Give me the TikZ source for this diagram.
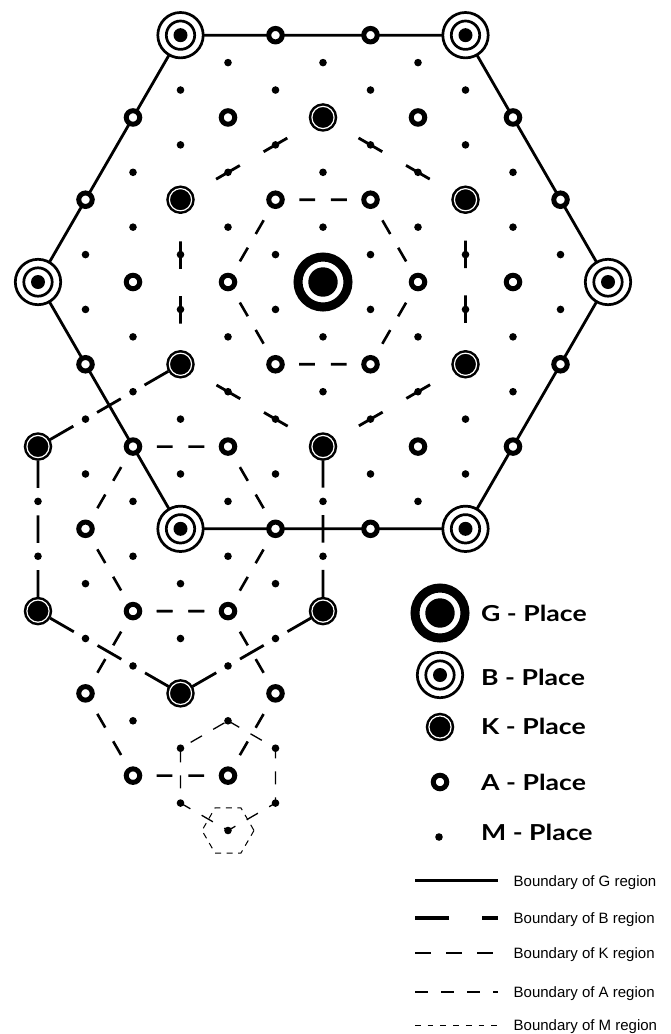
\documentclass[tikz,border=0pt]{standalone}
\usepackage{fontspec}
\setmainfont{Liberation Sans}
\newfontfamily\legfont[FakeStretch=1.21]{Lato}
\usetikzlibrary{backgrounds}
\newcommand\binnerparts[1]{\draw[black, line width=2.7pt] (#1.center) circle[radius=14.2pt]; \fill[black] (#1.center) circle[radius=7pt];}
\newcommand\ginnerparts[1]{\fill[black] (#1.center) circle[radius=14.7pt];}
\begin{document}
\begin{tikzpicture}[x=1pt,y=-1pt,
  gbound/.style={line width=2.8pt},
  bbound/.style={line width=2.8pt, dash pattern=on 27.41pt off 27.41pt},
  kbound/.style={line width=2.6pt, dash pattern=on 15.83pt off 15.83pt},
  abound/.style={line width=1.3pt, dash pattern=on 13pt off 13pt},
  mbound/.style={line width=1pt, dash pattern=on 6pt off 5.5pt},
  mplace/.style={circle, inner sep=0pt, minimum size=7.6pt, fill=black},
  aplace/.style={circle, inner sep=0pt, minimum size=13.5pt, draw=black, line width=5pt, fill=white},
  kplace/.style={circle, inner sep=0pt, minimum size=22.2pt, fill=black, draw=black, line width=2.5pt, double=white, double distance=1.2pt},
  bplace/.style={circle, inner sep=0pt, minimum size=45.4pt, draw=black, line width=2.7pt, fill=white},
  gplace/.style={circle, inner sep=0pt, minimum size=50pt, draw=black, line width=9pt, fill=white},
  placelabel/.style={anchor=base west, inner sep=0pt, font=\legfont\bfseries\fontsize{22}{22}\selectfont},
  boundlabel/.style={anchor=base west, inner sep=0pt, font=\fontsize{15}{15}\selectfont},
]
\useasboundingbox (0,0) rectangle (671,1034);

% ---------- places on the lattice ----------
\foreach \i in {-6,...,6}{
  \foreach \j in {-9,...,20}{
    \pgfmathtruncatemacro\vis{(mod(abs(\i+\j),2)==0) && ((abs(\j)<=9 && 3*abs(\i)+abs(\j)<=18) || (abs(\i+3)<=3 && abs(\i+3)+abs(\j-9)<=6) || (abs(\j-15)<=3 && 3*abs(\i+3)+abs(\j-15)<=6) || (abs(\i+2)<=1 && abs(\i+2)+abs(\j-18)<=2))}
    \ifnum\vis=1
      \pgfmathtruncatemacro\lev{(\i==0 && \j==0) ? 4 : ((mod(abs(\j),9)==0 && mod(abs(\i),3)==0 && mod(abs(round(\i/3+\j/9)),2)==0) ? 3 : ((mod(abs(\j),3)==0 && mod(abs(\i),3)==0) ? 2 : ((mod(abs(\j),3)==0) ? 1 : 0)))}
      \pgfmathtruncatemacro\ii{\i+6}
      \pgfmathtruncatemacro\jj{\j+9}
      \ifcase\lev
        \node[mplace] (p\ii x\jj) at ({323+47.5*\i},{282+27.4241*\j}) {};
      \or
        \node[aplace] (p\ii x\jj) at ({323+47.5*\i},{282+27.4241*\j}) {};
      \or
        \node[kplace] (p\ii x\jj) at ({323+47.5*\i},{282+27.4241*\j}) {};
      \or
        \node[bplace] (p\ii x\jj) at ({323+47.5*\i},{282+27.4241*\j}) {};
        \binnerparts{p\ii x\jj}
      \or
        \node[gplace] (p\ii x\jj) at ({323+47.5*\i},{282+27.4241*\j}) {};
        \ginnerparts{p\ii x\jj}
      \fi
    \fi
  }
}

% ---------- boundaries (behind the places) ----------
\begin{pgfonlayer}{background}
  % G region
  \draw[gbound] (p12x9.center) -- (p9x0.center) -- (p3x0.center) -- (p0x9.center) -- (p3x18.center) -- (p9x18.center) -- cycle;
  % B region of the G place
  \draw[bbound, dash phase=13.705pt] (p3x6.center) -- (p6x3.center) -- (p9x6.center) -- (p9x12.center) -- (p6x15.center) -- (p3x12.center) -- cycle;
  % B region of the lower-left B place
  \draw[bbound, dash phase=41.1pt] (p6x15.center) -- (p6x21.center) -- (p3x24.center) -- (p0x21.center) -- (p0x15.center) -- (p3x12.center);
  % K regions
  \draw[kbound, dash phase=7.92pt] (p8x9.center) -- (p7x6.center) -- (p5x6.center) -- (p4x9.center) -- (p5x12.center) -- (p7x12.center) -- cycle;
  \draw[kbound, dash phase=7.92pt] (p5x18.center) -- (p4x15.center) -- (p2x15.center) -- (p1x18.center) -- (p2x21.center) -- (p4x21.center) -- cycle;
  \draw[kbound, dash phase=7.92pt] (p5x24.center) -- (p4x21.center) -- (p2x21.center) -- (p1x24.center) -- (p2x27.center) -- (p4x27.center) -- cycle;
  % A region
  \draw[abound] (p4x25.center) -- (p5x26.center) -- (p5x28.center) -- (p4x29.center) -- (p3x28.center) -- (p3x26.center) -- cycle;
  % M region
  \draw[mbound, shift={(p4x29.center)}] (26,0) -- (13,22.52) -- (-13,22.52) -- (-26,0) -- (-13,-22.52) -- (13,-22.52) -- cycle;
\end{pgfonlayer}

% ---------- legend: places ----------
\node[gplace] (lg) at (440,613) {};
\ginnerparts{lg}
\node[bplace] (lb) at (440,675) {};
\binnerparts{lb}
\node[kplace] (lk) at (440,727) {};
\node[aplace] (la) at (440,782) {};
\node[mplace] (lm) at (439,837) {};
\node[placelabel] (tg) at (481,621.7) {G - Place};
\node[placelabel] (tb) at (481,685) {B - Place};
\node[placelabel] (tk) at (481,734) {K - Place};
\node[placelabel] (ta) at (481,790) {A - Place};
\node[placelabel] (tm) at (481,840.7) {M - Place};

% ---------- legend: boundaries ----------
\coordinate (g1) at (415,880.7); \coordinate (g2) at (498,880.7);
\coordinate (b1) at (415,917.7); \coordinate (b2) at (498,917.7);
\coordinate (k1) at (415,953);   \coordinate (k2) at (493,953);
\coordinate (a1) at (415,992);   \coordinate (a2) at (498,992);
\coordinate (m1) at (415,1025);  \coordinate (m2) at (498,1025);
\draw[gbound, line width=3.4pt] (g1) -- (g2);
\draw[bbound, line width=3.6pt, dash pattern=on 34pt off 33pt] (b1) -- (b2);
\draw[kbound, dash pattern=on 15.7pt off 15.3pt] (k1) -- (k2);
\draw[abound] (a1) -- (a2);
\draw[mbound, dash pattern=on 5.7pt off 7pt] (m1) -- (m2);
\node[boundlabel] (lgt) at (513.5,886) {Boundary of G region};
\node[boundlabel] (lbt) at (513.5,923) {Boundary of B region};
\node[boundlabel] (lkt) at (513.5,958.5) {Boundary of K region};
\node[boundlabel] (lat) at (513.5,997.5) {Boundary of A region};
\node[boundlabel] (lmt) at (513.5,1030.5) {Boundary of M region};
\end{tikzpicture}
\end{document}
